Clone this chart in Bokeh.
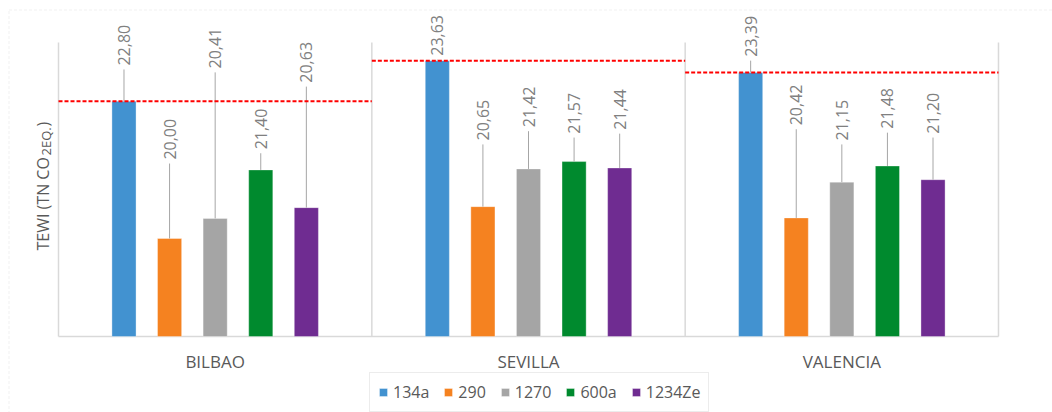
import math
from bokeh.plotting import figure
from bokeh.models import (ColumnDataSource, Range1d, Legend, LegendItem,
                          Label, BoxAnnotation)
from bokeh.core.properties import value
from bokeh.embed import file_html
from bokeh.resources import INLINE

# ---------------- data ----------------
cities = ["BILBAO", "SEVILLA", "VALENCIA"]
refrigerants = ["134a", "290", "1270", "600a", "1234Ze"]
tewi_bilbao = [22.80, 20.00, 20.41, 21.40, 20.63]
tewi_sevilla = [23.63, 20.65, 21.42, 21.57, 21.44]
tewi_valencia = [23.39, 20.42, 21.15, 21.48, 21.20]

# data-label anchor heights (where each rotated label starts), in TEWI units
label_y_bilbao = [23.53, 21.61, 23.47, 21.82, 23.18]
label_y_sevilla = [23.73, 22.00, 22.27, 22.14, 22.22]
label_y_valencia = [23.71, 22.31, 22.00, 22.24, 22.14]

colors = ["#4292D0", "#F58220", "#A5A5A5", "#008A2E", "#6F2C91"]

# ---------------- layout constants ----------------
W, H = 1052, 412
PX_X = 313.33           # px per city panel
PX_Y = 49.0             # px per TEWI unit
Y_MIN, Y_TOP = 18.0, 24.0
Y_VIEW_TOP = Y_TOP + 42 / PX_Y
Y_VIEW_BOTTOM = Y_MIN - 76 / PX_Y
X_START = -58 / PX_X
X_END = 3 + 54 / PX_X
OFFSETS = [-0.2910, -0.1455, 0.0, 0.1455, 0.2910]
BAR_W = 0.077
FONT = "Open Sans"

series = [tewi_bilbao, tewi_sevilla, tewi_valencia]
label_ys = [label_y_bilbao, label_y_sevilla, label_y_valencia]
centers = [ci + 0.5 for ci in range(len(cities))]

p = figure(width=W, height=H,
           x_range=Range1d(X_START, X_END),
           y_range=Range1d(Y_VIEW_BOTTOM, Y_VIEW_TOP),
           output_backend="svg", toolbar_location=None,
           min_border=0)
p.axis.visible = False
p.grid.visible = False
p.outline_line_color = None
p.background_fill_color = "white"
p.border_fill_color = "white"

# outer dashed chart border
p.add_layout(BoxAnnotation(left=8.5, right=3000, top=9.5, bottom=3000,
                           left_units="canvas", right_units="canvas",
                           top_units="canvas", bottom_units="canvas",
                           fill_alpha=0, line_color="#D0D0D0",
                           line_dash="3 2", line_width=1))

# panel separators and category base line
bounds = [ci for ci in range(len(cities) + 1)]
p.segment(x0=bounds, x1=bounds, y0=[Y_MIN] * len(bounds), y1=[Y_TOP] * len(bounds),
          line_color="#D9D9D9", line_width=1.5)
p.segment(x0=[0], x1=[len(cities)], y0=[Y_MIN], y1=[Y_MIN],
          line_color="#D9D9D9", line_width=1.5)

# category (city) labels under each panel
p.text(x=centers, y=[Y_MIN - 25 / PX_Y] * len(cities), text=cities,
       text_align="center", text_baseline="middle",
       text_font=value(FONT), text_font_size="17px", text_color="#595959")

legend_items = []
for i, ref in enumerate(refrigerants):
    vals = [s[i] for s in series]
    lys = [l[i] for l in label_ys]
    src = ColumnDataSource(dict(
        x=[c + OFFSETS[i] for c in centers],
        val=vals,
        base=[Y_MIN] * len(vals),
        label=[f"{v:.2f}".replace(".", ",") for v in vals],
        label_y=lys,
        lead_top=[ly - 0.08 for ly in lys],
    ))
    r = p.vbar(x="x", top="val", bottom="base", width=BAR_W, source=src,
               fill_color=colors[i], line_color="white", line_alpha=0.35, line_width=1)
    legend_items.append(LegendItem(label=ref, renderers=[r]))
    p.segment(x0="x", x1="x", y0="val", y1="lead_top", source=src,
              line_color="#A6A6A6", line_width=1)
    p.text(x="x", y="label_y", text="label", source=src, angle=math.pi / 2,
           text_align="left", text_baseline="middle",
           text_font=value(FONT), text_font_size="16px", text_color="#808080")

# reference (134a) dashed lines per city
p.segment(x0=[c - 0.5 for c in centers], x1=[c + 0.5 for c in centers],
          y0=[s[0] for s in series], y1=[s[0] for s in series],
          line_color="#FF0000", line_width=2, line_dash="4 2")

# y axis title with subscript
common = dict(angle=math.pi / 2, text_font=FONT, text_color="#595959",
              text_align="left", text_baseline="alphabetic")
p.add_layout(Label(x=-16 / PX_X, y=Y_MIN + 86 / PX_Y, text="TEWI (TN CO",
                   text_font_size="16px", **common))
p.add_layout(Label(x=-13 / PX_X, y=Y_MIN + 181 / PX_Y, text="2EQ.",
                   text_font_size="13px", **common))
p.add_layout(Label(x=-16 / PX_X, y=Y_MIN + 210 / PX_Y, text=")",
                   text_font_size="16px", **common))

legend = Legend(items=legend_items, orientation="horizontal", location=(369, 0),
                glyph_width=10, glyph_height=10, label_standoff=5, spacing=14,
                padding=8, margin=0, label_text_font=FONT, label_text_font_size="16px",
                label_text_color="#595959", border_line_color="#D9D9D9",
                background_fill_color="white", background_fill_alpha=1)
p.add_layout(legend)

open("out.html", "w").write(file_html(p, INLINE))
